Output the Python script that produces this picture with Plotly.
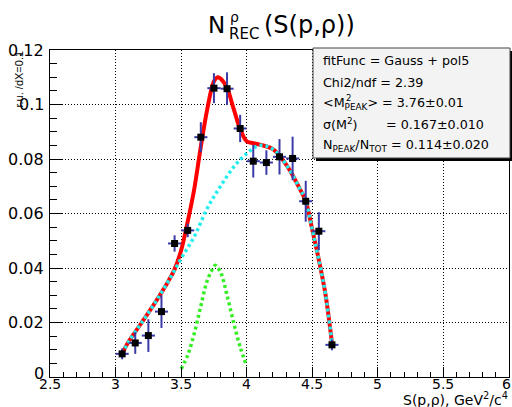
import plotly.graph_objects as go

# Binned reconstruction spectrum with fitted components
bin_centers = [3.05, 3.15, 3.25, 3.35, 3.45, 3.55, 3.65, 3.75, 3.85, 3.95,
               4.05, 4.15, 4.25, 4.35, 4.45, 4.55, 4.65]
counts = [0.0085, 0.0125, 0.0152, 0.0240, 0.0490, 0.0538, 0.0880, 0.1060, 0.1058, 0.0912,
          0.0792, 0.0787, 0.0808, 0.0802, 0.0645, 0.0535, 0.0118]
count_err = [0.0020, 0.0040, 0.0060, 0.0060, 0.0030, 0.0025, 0.0055, 0.0055, 0.0060, 0.0050,
             0.0060, 0.0045, 0.0065, 0.0080, 0.0075, 0.0070, 0.0020]
half_bin = [0.05] * len(bin_centers)

# Total fit (Gauss + pol5)
total_x = [3.05, 3.10, 3.20, 3.30, 3.40, 3.45, 3.50, 3.55, 3.60, 3.65, 3.70, 3.75, 3.78,
           3.80, 3.85, 3.90, 3.95, 4.00, 4.05, 4.10, 4.20, 4.30, 4.40, 4.45, 4.50, 4.55,
           4.60, 4.65]
total_y = [0.0085, 0.0130, 0.0200, 0.0272, 0.0350, 0.0395, 0.0465, 0.0570, 0.0690, 0.0845,
           0.0985, 0.1085, 0.1100, 0.1095, 0.1060, 0.0985, 0.0910, 0.0865, 0.0858, 0.0853,
           0.0836, 0.0780, 0.0695, 0.0645, 0.0540, 0.0430, 0.0305, 0.0125]

# Background component (pol5)
bkg_x = [3.05, 3.10, 3.20, 3.30, 3.40, 3.50, 3.60, 3.70, 3.80, 3.90, 4.00, 4.10, 4.20,
         4.30, 4.40, 4.45, 4.50, 4.55, 4.60, 4.65]
bkg_y = [0.0085, 0.0130, 0.0200, 0.0272, 0.0350, 0.0435, 0.0515, 0.0620, 0.0700, 0.0770,
         0.0820, 0.0850, 0.0836, 0.0780, 0.0695, 0.0645, 0.0540, 0.0430, 0.0305, 0.0125]

# Peak component (Gauss)
peak_x = [3.50, 3.55, 3.60, 3.65, 3.70, 3.75, 3.76, 3.80, 3.85, 3.90, 3.95, 4.00]
peak_y = [0.0030, 0.0080, 0.0160, 0.0260, 0.0355, 0.0405, 0.0410, 0.0385, 0.0300, 0.0200,
          0.0110, 0.0040]

x_ticks = [2.5, 3, 3.5, 4, 4.5, 5, 5.5, 6]
x_tick_text = ["2.5", "3", "3.5", "4", "4.5", "5", "5.5", "6"]
y_ticks = [0, 0.02, 0.04, 0.06, 0.08, 0.1, 0.12]
y_tick_text = ["0", "0.02", "0.04", "0.06", "0.08", "0.1", "0.12"]

stat_lines = [
    "fitFunc = Gauss + pol5",
    "Chi2/ndf = 2.39",
    "&lt;M<sub>PEAK</sub>&gt; = 3.76±0.01",
    "σ(M<sup>2</sup>)",
    "N<sub>PEAK</sub>/N<sub>TOT</sub> = 0.114±0.020",
]
sigma_value = "= 0.167±0.010"

FONT = "DejaVu Sans"
W, H = 512, 407
L, R, T, B = 50, 3, 50, 30
PW, PH = W - L - R, H - T - B


def px(xp):
    return (xp - L) / PW


def py(yp):
    return (H - B - yp) / PH


fig = go.Figure()

fig.add_trace(go.Scatter(x=total_x, y=total_y, mode="lines", line_shape="spline",
                         line=dict(color="#ff0000", width=4), hoverinfo="skip"))
fig.add_trace(go.Scatter(x=bkg_x, y=bkg_y, mode="lines", line_shape="spline",
                         line=dict(color="#22eeee", width=3.5, dash="3px,3px"),
                         hoverinfo="skip"))
fig.add_trace(go.Scatter(x=peak_x, y=peak_y, mode="lines", line_shape="spline",
                         line=dict(color="#33ee22", width=3.5, dash="3px,3px"),
                         hoverinfo="skip"))
fig.add_trace(go.Scatter(
    x=bin_centers, y=counts, mode="markers",
    marker=dict(symbol="square", size=7, color="black"),
    error_x=dict(type="data", array=half_bin, color="#3a3aa8", thickness=2, width=0),
    error_y=dict(type="data", array=count_err, color="#3a3aa8", thickness=2, width=0),
))

axis_common = dict(showline=True, linecolor="black", linewidth=1, mirror=True,
                   showgrid=True, gridcolor="black", gridwidth=1, griddash="1px,2px",
                   ticks="inside", tickcolor="black", zeroline=False,
                   showticklabels=False)

fig.update_xaxes(range=[2.5, 6], tickvals=x_ticks, ticklen=10,
                 minor=dict(dtick=0.1, tick0=2.5, ticklen=5, ticks="inside",
                            tickcolor="black", showgrid=False),
                 **axis_common)
fig.update_yaxes(range=[0, 0.12], tickvals=y_ticks, ticklen=13,
                 minor=dict(dtick=0.005, tick0=0, ticklen=7, ticks="inside",
                            tickcolor="black", showgrid=False),
                 **axis_common)

annotations = []
# Tick labels placed on the axis scales
for v, t in zip(x_ticks, x_tick_text):
    annotations.append(dict(text=t, x=v, xref="x", y=py(384), yref="paper",
                            xanchor="center", yanchor="middle", borderpad=0,
                            xshift=-3 if v == x_ticks[-1] else 0,
                            font=dict(family=FONT, size=14, color="black")))
for v, t in zip(y_ticks, y_tick_text):
    annotations.append(dict(text=t, x=px(45), xref="paper", y=v, yref="y",
                            xanchor="right", yanchor="middle", borderpad=0,
                            yshift=4 if v == y_ticks[0] else 0,
                            font=dict(family=FONT, size=16, color="black")))

# Title: N with stacked super/subscript
annotations.append(dict(text="N", x=px(206), y=py(25), xanchor="left", yanchor="middle",
                        font=dict(family=FONT, size=23, color="black")))
annotations.append(dict(text="ρ", x=px(228), y=py(17), xanchor="left", yanchor="middle",
                        font=dict(family=FONT, size=14, color="black")))
annotations.append(dict(text="REC", x=px(227), y=py(34), xanchor="left", yanchor="middle",
                        font=dict(family=FONT, size=15, color="black")))
annotations.append(dict(text="(S(p,ρ))", x=px(262), y=py(25), xanchor="left",
                        yanchor="middle", font=dict(family=FONT, size=24, color="black")))

# Axis titles
annotations.append(dict(text="S(p,ρ), GeV<sup>2</sup>/c<sup>4</sup>", x=px(509), y=py(399),
                        xanchor="right", yanchor="middle", borderpad=0,
                        font=dict(family=FONT, size=14, color="black")))
annotations.append(dict(text="r.u. /dX=0.1", x=px(19), y=py(48), xanchor="center",
                        yanchor="top", textangle=-90,
                        font=dict(family="Liberation Sans", size=11, color="black")))

# Fit statistics panel
line_y = [61, 82, 103, 124, 145]
for text, yy in zip(stat_lines, line_y):
    annotations.append(dict(text=text, x=px(321), y=py(yy), xanchor="left",
                            yanchor="middle",
                            font=dict(family=FONT, size=12.7, color="black")))
annotations.append(dict(text="2", x=px(344), y=py(98), xanchor="left", yanchor="middle",
                        font=dict(family=FONT, size=8.5, color="black")))
annotations.append(dict(text=sigma_value, x=px(384), y=py(124), xanchor="left",
                        yanchor="middle", font=dict(family=FONT, size=12.7, color="black")))

for a in annotations:
    a.setdefault("xref", "paper")
    a.setdefault("yref", "paper")
    a.update(showarrow=False)

shapes = [
    dict(type="rect", xref="paper", yref="paper", x0=px(316), x1=px(513), y0=py(161),
         y1=py(51), fillcolor="black", line=dict(width=0)),
    dict(type="rect", xref="paper", yref="paper", x0=px(313), x1=px(510), y0=py(158),
         y1=py(48), fillcolor="#f3f3f3", line=dict(color="#444444", width=1)),
]

fig.update_layout(width=W, height=H, autosize=False,
                  margin=dict(l=L, r=R, t=T, b=B),
                  paper_bgcolor="white", plot_bgcolor="white",
                  showlegend=False, annotations=annotations, shapes=shapes)

fig.write_html("out.html")
